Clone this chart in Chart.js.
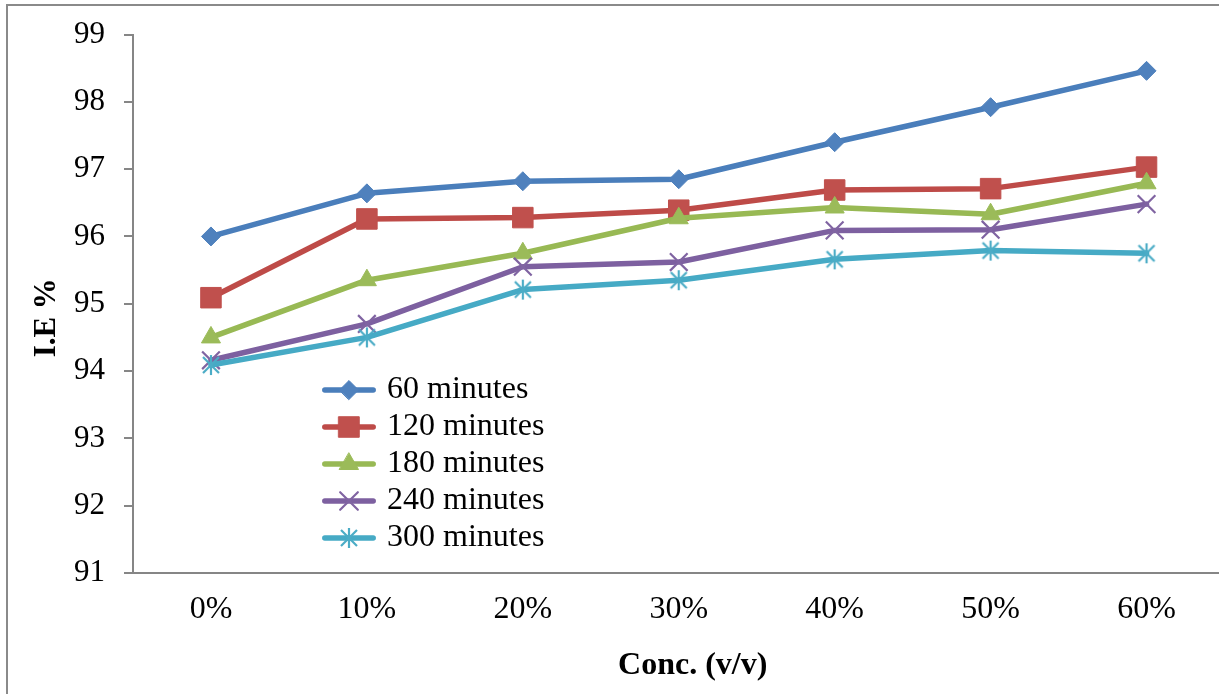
<!DOCTYPE html>
<html>
<head>
<meta charset="utf-8">
<script src="https://cdn.jsdelivr.net/npm/chart.js@4/dist/chart.umd.min.js"></script>
<style>
html,body{margin:0;padding:0;overflow:hidden;background:#fff;width:1219px;height:694px}
canvas{display:block}
</style>
</head>
<body>
<canvas id="c" width="1240" height="694" style="width:1240px;height:694px"></canvas>
<script>
// ---- data ----
const categories = ['0%', '10%', '20%', '30%', '40%', '50%', '60%'];
const seriesNames = ['60 minutes', '120 minutes', '180 minutes', '240 minutes', '300 minutes'];
const ie60  = [96.00, 96.64, 96.82, 96.85, 97.40, 97.92, 98.46];
const ie120 = [95.09, 96.26, 96.28, 96.39, 96.69, 96.71, 97.03];
const ie180 = [94.50, 95.35, 95.75, 96.27, 96.43, 96.33, 96.79];
const ie240 = [94.16, 94.70, 95.55, 95.62, 96.09, 96.10, 96.48];
const ie300 = [94.09, 94.50, 95.21, 95.35, 95.66, 95.79, 95.75];
const yTicks = [91, 92, 93, 94, 95, 96, 97, 98, 99];
const xTitle = 'Conc. (v/v)';
const yTitle = 'I.E %';

// ---- styles ----
const FONT = 'Liberation Serif';
const lineColors   = ['#4A7EBB', '#BE4B48', '#98B954', '#7D60A0', '#46AAC5'];
const markerColors = ['#4F81BD', '#C0504D', '#9BBB59', '#8064A2', '#4BACC6'];

function makeAsterisk(color) {
  const c = document.createElement('canvas');
  c.width = 24; c.height = 24;
  const g = c.getContext('2d');
  g.strokeStyle = color; g.lineWidth = 2.2;
  g.beginPath();
  g.moveTo(4, 4); g.lineTo(20, 20);
  g.moveTo(20, 4); g.lineTo(4, 20);
  g.moveTo(12, 2); g.lineTo(12, 22);
  g.stroke();
  return c;
}
const asterisk = makeAsterisk(markerColors[4]);

const pointStyles = ['rectRot', 'rect', 'triangle', 'crossRot', asterisk];
const pointRadii  = [9.5, 14.5, 11, 12.5, 10];
const pointBorderWidths = [1, 1, 1, 2.2, 2];

function makeLegendIcon(i) {
  const W = 54, H = 28;
  const c = document.createElement('canvas');
  c.width = W; c.height = H;
  const g = c.getContext('2d');
  g.strokeStyle = lineColors[i]; g.lineWidth = 5.5; g.lineCap = 'round';
  g.beginPath(); g.moveTo(2.8, H / 2); g.lineTo(W - 2.8, H / 2); g.stroke();
  const ps = pointStyles[i];
  if (typeof ps === 'object') {
    g.drawImage(ps, W / 2 - ps.width / 2, H / 2 - ps.height / 2);
  } else {
    g.fillStyle = markerColors[i];
    g.strokeStyle = markerColors[i];
    g.lineWidth = pointBorderWidths[i];
    Chart.helpers.drawPoint(g, {pointStyle: ps, radius: pointRadii[i], rotation: 0, borderWidth: pointBorderWidths[i]}, W / 2, H / 2);
  }
  return c;
}

const seriesData = [ie60, ie120, ie180, ie240, ie300];
const datasets = seriesData.map((d, i) => ({
  label: seriesNames[i],
  data: d,
  order: seriesData.length - i,
  borderColor: lineColors[i],
  backgroundColor: markerColors[i],
  borderWidth: 5.5,
  borderJoinStyle: 'round',
  borderCapStyle: 'round',
  tension: 0,
  fill: false,
  pointStyle: pointStyles[i],
  pointRadius: pointRadii[i],
  pointHoverRadius: pointRadii[i],
  pointBackgroundColor: markerColors[i],
  pointBorderColor: markerColors[i],
  pointBorderWidth: pointBorderWidths[i]
}));
const legendIcons = seriesData.map((d, i) => makeLegendIcon(i));

const framePlugin = {
  id: 'frame',
  beforeDraw(chart) {
    const ctx = chart.ctx;
    ctx.save();
    ctx.strokeStyle = '#8a8a8a';
    ctx.lineWidth = 2;
    ctx.beginPath();
    ctx.moveTo(7, 720); ctx.lineTo(7, 5); ctx.lineTo(1300, 5);
    ctx.stroke();
    ctx.restore();
  }
};

const placePlugin = {
  id: 'place',
  afterLayout(chart) {
    const l = chart.legend;
    if (l) {
      l.left = 322; l.top = 369; l.right = 760; l.bottom = 620;
      l.width = l.right - l.left; l.height = l.bottom - l.top;
    }
    const sx = chart.scales.x, sy = chart.scales.y;
    if (sx && !sx._shifted) {
      const o = sx.drawTitle;
      sx.drawTitle = function () { this.ctx.save(); this.ctx.translate(14, 0); o.call(this); this.ctx.restore(); };
      sx._shifted = true;
    }
    if (sy && !sy._shifted) {
      const o = sy.drawTitle;
      sy.drawTitle = function () { this.ctx.save(); this.ctx.translate(0, 14); o.call(this); this.ctx.restore(); };
      sy._shifted = true;
    }
  }
};

new Chart(document.getElementById('c'), {
  type: 'line',
  data: { labels: categories, datasets: datasets },
  plugins: [framePlugin, placePlugin],
  options: {
    responsive: false,
    animation: false,
    layout: { padding: { top: 34, left: 0, right: 0, bottom: 0 } },
    plugins: {
      tooltip: { enabled: false },
      legend: {
        position: 'chartArea',
        align: 'start',
        labels: {
          usePointStyle: true,
          pointStyleWidth: 44,
          padding: 5,
          color: '#000',
          font: { family: FONT, size: 32 },
          sort: (a, b) => a.datasetIndex - b.datasetIndex,
          generateLabels(chart) {
            return Chart.defaults.plugins.legend.labels.generateLabels(chart).map(it => Object.assign(it, {
              pointStyle: legendIcons[it.datasetIndex], rotation: 0
            }));
          }
        }
      }
    },
    scales: {
      x: {
        type: 'category',
        offset: true,
        grid: { display: false, drawTicks: false, tickLength: 0 },
        border: { display: true, color: '#868686', width: 2 },
        ticks: { color: '#000', padding: 21, maxRotation: 0, autoSkip: false, font: { family: FONT, size: 32, lineHeight: 1 } },
        title: { display: true, text: xTitle, color: '#000', font: { family: FONT, size: 32, weight: 'bold', lineHeight: 1 }, padding: { top: 0, bottom: 12 } },
        afterFit(s) { s.height = 121; }
      },
      y: {
        min: yTicks[0],
        max: yTicks[yTicks.length - 1],
        afterBuildTicks(s) { s.ticks = yTicks.map(v => ({ value: v })); },
        grid: { display: true, drawOnChartArea: false, drawTicks: true, tickLength: 9, color: '#868686', lineWidth: 2 },
        border: { display: true, color: '#868686', width: 2 },
        ticks: { color: '#000', padding: 19, font: { family: FONT, size: 31, lineHeight: 1 } },
        title: { display: true, text: yTitle, color: '#000', font: { family: FONT, size: 31, weight: 'bold', lineHeight: 1 }, padding: { top: 31, bottom: 0 } },
        afterFit(s) { s.width = 133; }
      }
    }
  }
});
</script>
</body>
</html>
